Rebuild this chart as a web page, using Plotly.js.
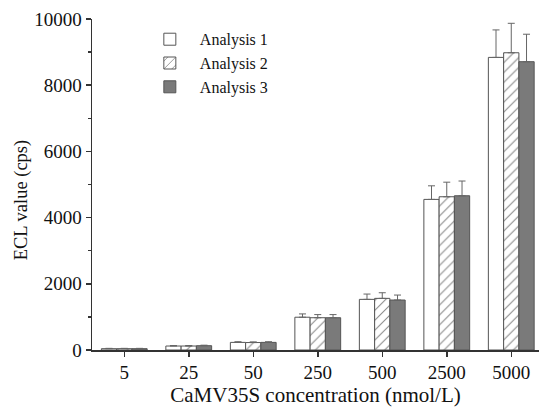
<!DOCTYPE html>
<html>
<head>
<meta charset="utf-8">
<script src="https://cdn.plot.ly/plotly-3.0.1.min.js"></script>
<style>html,body{margin:0;padding:0;background:#fff}#chart{width:539px;height:407px}</style>
</head>
<body>
<div id="chart"></div>
<script>
var categories = ['5', '25', '50', '250', '500', '2500', '5000'];
var analysis1 = [40, 120, 230, 990, 1530, 4550, 8840];
var analysis2 = [40, 120, 225, 975, 1560, 4630, 8980];
var analysis3 = [40, 130, 230, 975, 1510, 4660, 8710];
var err1 = [10, 15, 20, 100, 160, 410, 830];
var err2 = [10, 15, 20, 95, 170, 440, 890];
var err3 = [10, 15, 20, 95, 150, 445, 830];

var lineCol = '#555';
function errCfg(arr) {
  return {type: 'data', symmetric: false, array: arr, arrayminus: arr.map(function(){return 0;}),
          color: '#666', thickness: 1, width: 3.5};
}
var traces = [
  {type: 'bar', name: 'Analysis 1', x: categories, y: analysis1, error_y: errCfg(err1),
   marker: {color: '#ffffff', line: {color: lineCol, width: 1}}},
  {type: 'bar', name: 'Analysis 2', x: categories, y: analysis2, error_y: errCfg(err2),
   marker: {color: '#ffffff', line: {color: lineCol, width: 1},
            pattern: {shape: '/', fgcolor: '#888', bgcolor: '#ffffff', size: 7, solidity: 0.15}}},
  {type: 'bar', name: 'Analysis 3', x: categories, y: analysis3, error_y: errCfg(err3),
   marker: {color: '#7a7a7a', line: {color: lineCol, width: 1}}}
];
var font = 'Liberation Serif, Times New Roman, serif';
var layout = {
  width: 539, height: 407,
  margin: {l: 92, r: 0, t: 19, b: 57},
  paper_bgcolor: '#fff', plot_bgcolor: '#fff',
  barmode: 'group', bargap: 0.29, bargroupgap: 0,
  font: {family: font, color: '#111'},
  showlegend: true,
  legend: {x: 0.107, y: 0.99, xanchor: 'left', yanchor: 'top', font: {family: font, size: 16, color: '#111'},
           bgcolor: 'rgba(0,0,0,0)', tracegroupgap: 0, itemwidth: 50},
  xaxis: {
    type: 'category', range: [-0.5, 6.43],
    showline: true, linecolor: '#333', linewidth: 1.5, mirror: false,
    ticks: 'outside', ticklen: 5, tickcolor: '#333', tickwidth: 1.5,
    tickfont: {family: font, size: 19, color: '#111'},
    showgrid: false, zeroline: false,
    title: {text: 'CaMV35S concentration (nmol/L)', font: {family: font, size: 21, color: '#111'}, standoff: 4}
  },
  yaxis: {
    range: [0, 10000], tickvals: [0, 2000, 4000, 6000, 8000, 10000], tickformat: 'd',
    showline: true, linecolor: '#333', linewidth: 1.5,
    ticks: 'outside', ticklen: 5, tickcolor: '#333', tickwidth: 1.5,
    minor: {tickvals: [1000, 3000, 5000, 7000, 9000], ticks: 'outside', ticklen: 3, tickcolor: '#333', showgrid: false},
    tickfont: {family: font, size: 19, color: '#111'},
    showgrid: false, zeroline: false
  },
  annotations: [{
    text: 'ECL value (cps)', textangle: -90, showarrow: false,
    xref: 'paper', yref: 'paper', x: -0.159, y: 0.455, xanchor: 'center', yanchor: 'middle',
    font: {family: font, size: 18.5, color: '#111'}
  }]
};
Plotly.newPlot('chart', traces, layout, {displayModeBar: false, staticPlot: true});
</script>
</body>
</html>
